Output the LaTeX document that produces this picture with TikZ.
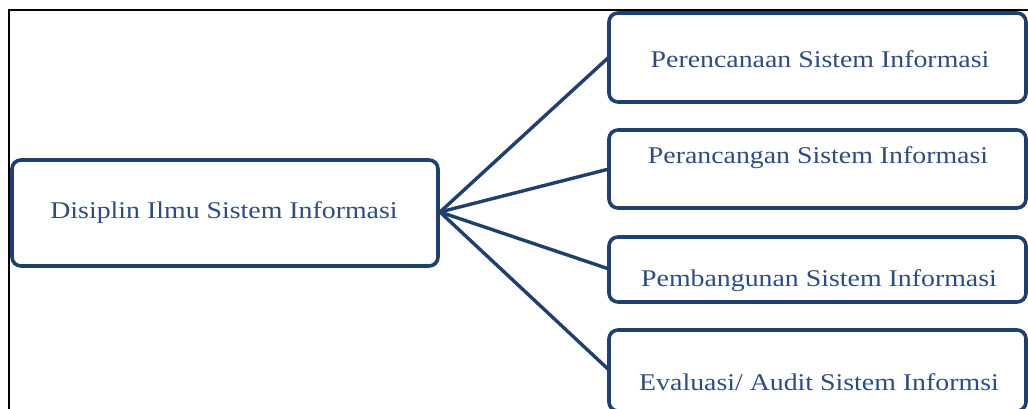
\documentclass[tikz,border=0pt]{standalone}
\usepackage{fontspec}
\setmainfont{Liberation Serif}
\definecolor{bord}{HTML}{1F3F6C}
\definecolor{txt}{HTML}{2E4C80}
\begin{document}
\begin{tikzpicture}[x=1pt,y=-1pt,
  box/.style={draw=bord,line width=3.6pt,rounded corners=9pt,fill=white},
  lbl/.style={text=txt,font=\fontsize{24}{26}\selectfont,inner sep=0pt,xscale=1.16},
  conn/.style={draw=bord,line width=3.4pt}]
\useasboundingbox (0,0) rectangle (1028,409);
\clip (0,0) rectangle (1028,409);
\fill[white] (0,0) rectangle (1028,409);
\draw[black,line width=2.2pt] (9,10) rectangle (1060,440);
% boxes
\draw[box] (12,160) rectangle (438,266);
\draw[box] (609,13) rectangle (1026,102);
\draw[box] (609,130) rectangle (1026,208);
\draw[box] (609,237) rectangle (1026,302);
\draw[box] (609,330) rectangle (1026,411);
\coordinate (hub) at (440,212);
\coordinate (e1) at (609,57);
\coordinate (e2) at (609,169);
\coordinate (e3) at (609,269);
\coordinate (e4) at (609,370);
\draw[conn] (hub) -- (e1);
\draw[conn] (hub) -- (e2);
\draw[conn] (hub) -- (e3);
\draw[conn] (hub) -- (e4);
\node[lbl] (m) at (224,213) {Disiplin Ilmu Sistem Informasi};
\node[lbl] (a) at (820,59) {Perencanaan Sistem Informasi};
\node[lbl] (b) at (818,158) {Perancangan Sistem Informasi};
\node[lbl] (c) at (819,281) {Pembangunan Sistem Informasi};
\node[lbl] (d) at (819,382) {Evaluasi/ Audit Sistem Informsi};
\end{tikzpicture}
\end{document}
